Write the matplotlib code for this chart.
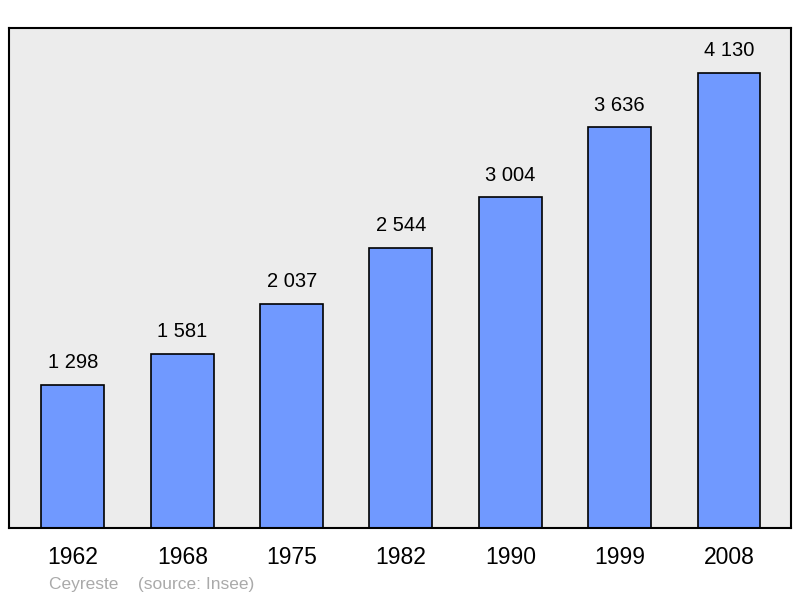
import matplotlib
matplotlib.use("Agg")
import matplotlib.pyplot as plt

years = ["1962", "1968", "1975", "1982", "1990", "1999", "2008"]
population = [1298, 1581, 2037, 2544, 3004, 3636, 4130]

plt.rcParams["font.family"] = ["Liberation Sans", "DejaVu Sans"]

fig = plt.figure(figsize=(8, 5.98), dpi=100)
ax = fig.add_axes([9 / 800, 1 - 528 / 598, 782 / 800, 500 / 598])
ax.set_facecolor("#ececec")

x = list(range(len(years)))
ax.bar(x, population, width=0.576, color="#7099ff", edgecolor="black", linewidth=1.2, zorder=2)
for xi, v in zip(x, population):
    label = f"{v:,}".replace(",", " ")
    ax.annotate(label, (xi, v), xytext=(0, 9), textcoords="offset points",
                ha="center", va="bottom", fontsize=14.5)

ax.set_xlim(-0.585, 6.567)
ax.set_ylim(0, 4538)
ax.set_xticks(x)
ax.set_xticklabels(years, fontsize=16.5)
ax.tick_params(axis="x", length=0, pad=13)
ax.set_yticks([])
for s in ax.spines.values():
    s.set_linewidth(1.5)

fig.text(49 / 800, 1 - 584 / 598, "Ceyreste    (source: Insee)", fontsize=12.5,
         color="#aaaaaa", va="center")

fig.savefig("out.png", dpi=100)
